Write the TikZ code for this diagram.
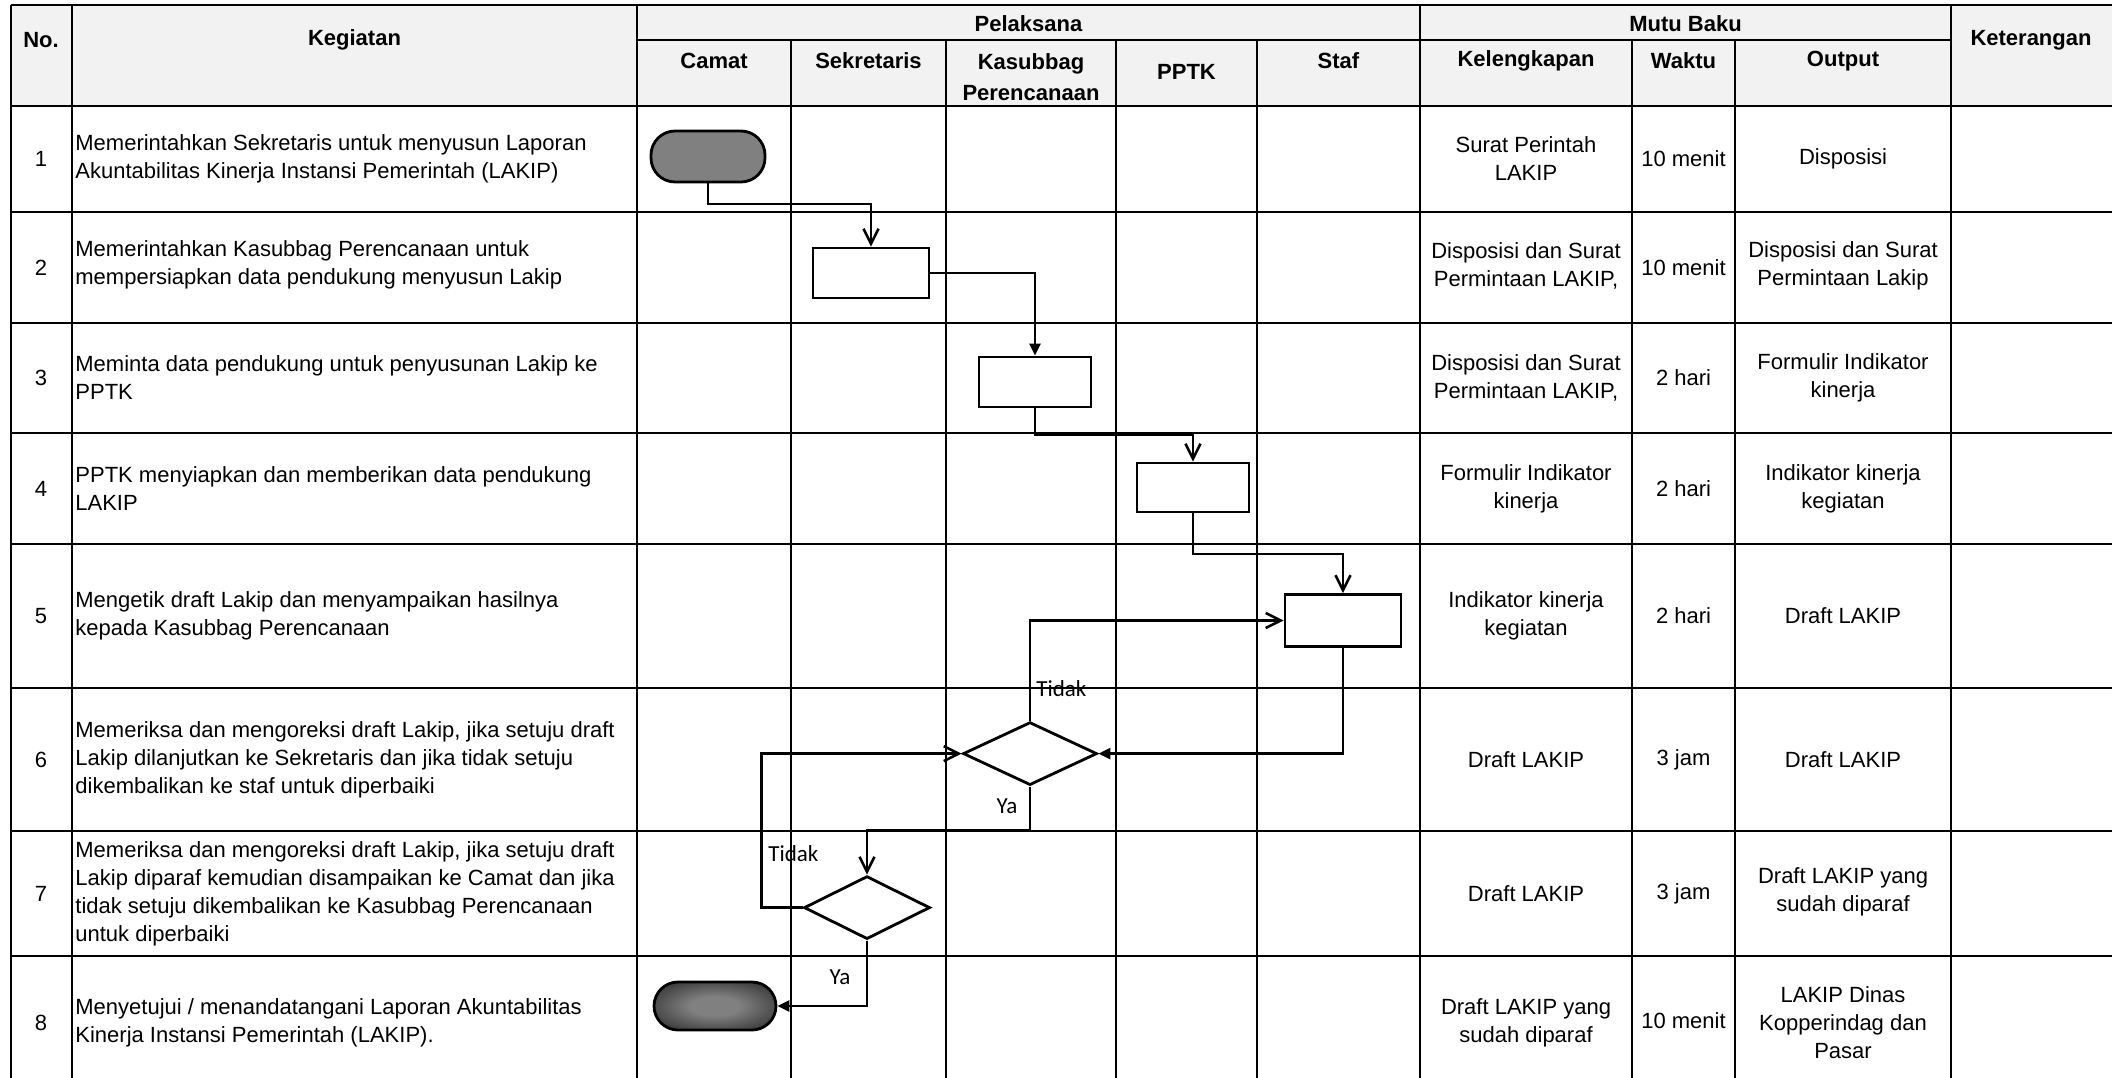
\documentclass[tikz,border=0pt]{standalone}
\usepackage{fontspec}
\setmainfont{Liberation Sans}
\newfontfamily\calib{Carlito}
\usetikzlibrary{arrows.meta,shapes.geometric}
\definecolor{midgray}{RGB}{128,128,128}
\definecolor{hdrbg}{RGB}{242,242,242}
\definecolor{darkrim}{RGB}{30,30,30}
\pgfdeclareradialshading{termshade}{\pgfpoint{0bp}{0bp}}{color(0bp)=(midgray); color(10bp)=(midgray); color(38bp)=(darkrim); color(50bp)=(black)}
\begin{document}
\begin{tikzpicture}[x=0.5pt,y=-0.5pt,
  gridline/.style={line width=1pt, black},
  hdr/.style={font=\bfseries\fontsize{11}{14}\selectfont, inner sep=0pt, align=center},
  txt/.style={font=\fontsize{11}{14}\selectfont, inner sep=0pt, align=center},
  kg/.style={font=\fontsize{11}{14}\selectfont, inner sep=0pt, align=left, anchor=west},
  lbl/.style={font=\calib\fontsize{11.5}{13}\selectfont, inner sep=0pt},
  procbox/.style={draw, line width=1.4pt, fill=white, minimum width=57pt, minimum height=25pt, inner sep=0pt},
  decis/.style={draw, diamond, line width=1.4pt, fill=white, inner sep=0pt},
  term/.style={draw, rounded corners=12pt, line width=1.4pt, inner sep=0pt},
  conn/.style={line width=1.3pt},
  openarr/.style={-{Straight Barb[length=7.5pt,width=7.5pt]}},
  fillarr/.style={-{Triangle[length=6pt,width=5.5pt]}},
]
\useasboundingbox (0,0) rectangle (2112,1077);
\clip (0,0) rectangle (2112,1077);
\fill[white] (0,0) rectangle (2112,1077);
% header background
\fill[hdrbg] (10.5,5) rectangle (2120,106);

% grid
\foreach \yy in {5,106,212,323,433,544,688,831,956}
  \draw[gridline] (10.5,\yy) -- (2120,\yy);
\draw[gridline] (637,40) -- (1951,40);
\foreach \xx in {10.5,72,637,1420,1951}
  \draw[gridline] (\xx,5) -- (\xx,1090);
\foreach \xx in {791,946,1116,1257,1632,1735}
  \draw[gridline] (\xx,40) -- (\xx,1090);

% header text
\node[hdr] (hno) at (41,40) {No.};
\node[hdr] (hkeg) at (354.5,40) {Kegiatan};
\node[hdr] (hket) at (2031,40) {Keterangan};
\node[hdr] (hpel) at (1028.5,24) {Pelaksana};
\node[hdr] (hmutu) at (1685.5,24) {Mutu Baku};
\node[hdr] (hcamat) at (714,61) {Camat};
\node[hdr] (hsek) at (868.5,61) {Sekretaris};
\node[hdr] (hkas) at (1031,64) {Kasubbag};
\node[hdr] (hper) at (1031,93) {Perencanaan};
\node[hdr] (hpptk) at (1186.5,72) {PPTK};
\node[hdr] (hstaf) at (1338.5,61) {Staf};
\node[hdr] (hkel) at (1526,61) {Kelengkapan};
\node[hdr] (hwak) at (1683.5,61) {Waktu};
\node[hdr] (hout) at (1843,61) {Output};

% numbers
\node[txt] (n1) at (41,159) {1};
\node[txt] (n2) at (41,267.5) {2};
\node[txt] (n3) at (41,378) {3};
\node[txt] (n4) at (41,488.5) {4};
\node[txt] (n5) at (41,616) {5};
\node[txt] (n6) at (41,759.5) {6};
\node[txt] (n7) at (41,893.5) {7};
\node[txt] (n8) at (41,1023) {8};

% kegiatan
\node[kg] (k1) at (75,159) {Memerintahkan Sekretaris untuk menyusun Laporan\\Akuntabilitas Kinerja Instansi Pemerintah (LAKIP)};
\node[kg] (k2) at (75,265) {Memerintahkan Kasubbag Perencanaan untuk\\mempersiapkan data pendukung menyusun Lakip};
\node[kg] (k3) at (75,378) {Meminta data pendukung untuk penyusunan Lakip ke\\PPTK};
\node[kg] (k4) at (75,488.5) {PPTK menyiapkan dan memberikan data pendukung\\LAKIP};
\node[kg] (k5) at (75,616) {Mengetik draft Lakip dan menyampaikan hasilnya\\kepada Kasubbag Perencanaan};
\node[kg] (k6) at (75,759.5) {Memeriksa dan mengoreksi draft Lakip, jika setuju draft\\Lakip dilanjutkan ke Sekretaris dan jika tidak setuju\\dikembalikan ke staf untuk diperbaiki};
\node[kg] (k7) at (75,893.5) {Memeriksa dan mengoreksi draft Lakip, jika setuju draft\\Lakip diparaf kemudian disampaikan ke Camat dan jika\\tidak setuju dikembalikan ke Kasubbag Perencanaan\\untuk diperbaiki};
\node[kg] (k8) at (75,1023) {Menyetujui / menandatangani Laporan Akuntabilitas\\Kinerja Instansi Pemerintah (LAKIP).};

% kelengkapan
\node[txt] (kl1) at (1526,159) {Surat Perintah\\LAKIP};
\node[txt] (kl2) at (1526,266) {Disposisi dan Surat\\Permintaan LAKIP,};
\node[txt] (kl3) at (1526,378) {Disposisi dan Surat\\Permintaan LAKIP,};
\node[txt] (kl4) at (1526,488.5) {Formulir Indikator\\kinerja};
\node[txt] (kl5) at (1526,616) {Indikator kinerja\\kegiatan};
\node[txt] (kl6) at (1526,759.5) {Draft LAKIP};
\node[txt] (kl7) at (1526,893.5) {Draft LAKIP};
\node[txt] (kl8) at (1526,1023) {Draft LAKIP yang\\sudah diparaf};

% waktu
\node[txt] (w1) at (1683.5,159) {10 menit};
\node[txt] (w2) at (1683.5,267.5) {10 menit};
\node[txt] (w3) at (1683.5,378) {2 hari};
\node[txt] (w4) at (1683.5,488.5) {2 hari};
\node[txt] (w5) at (1683.5,616) {2 hari};
\node[txt] (w6) at (1683.5,759.5) {3 jam};
\node[txt] (w7) at (1683.5,893.5) {3 jam};
\node[txt] (w8) at (1683.5,1021) {10 menit};

% output
\node[txt] (o1) at (1843,159) {Disposisi};
\node[txt] (o2) at (1843,266) {Disposisi dan Surat\\Permintaan Lakip};
\node[txt] (o3) at (1843,378) {Formulir Indikator\\kinerja};
\node[txt] (o4) at (1843,488.5) {Indikator kinerja\\kegiatan};
\node[txt] (o5) at (1843,616) {Draft LAKIP};
\node[txt] (o6) at (1843,759.5) {Draft LAKIP};
\node[txt] (o7) at (1843,892) {Draft LAKIP yang\\sudah diparaf};
\node[txt] (o8) at (1843,1023) {LAKIP Dinas\\Kopperindag dan\\Pasar};

% flowchart shapes
\node[term, fill=midgray, minimum width=57pt, minimum height=25.5pt] (S) at (708,156.5) {};
\node[procbox, minimum width=58pt] (B2) at (871,273) {};
\node[procbox, minimum width=56pt] (B3) at (1035,382) {};
\node[procbox, minimum width=56pt, minimum height=24.5pt] (B4) at (1193,487.5) {};
\node[procbox, minimum width=58pt, minimum height=26pt] (B5) at (1343,620.5) {};
\node[decis, minimum width=67pt, minimum height=31.5pt] (D1) at (1030,753.6) {};
\node[decis, minimum width=63pt, minimum height=31.5pt] (D2) at (867,907.6) {};
\node[term, shading=termshade, minimum width=61pt, minimum height=24pt] (E) at (715,1006) {};

% bend levels
\coordinate (h1) at (0,204);
\coordinate (h3) at (0,435);
\coordinate (h4) at (0,554);
\coordinate (h6) at (0,830.7);
\coordinate (v1) at (761.7,0);

% connectors
\draw[conn,openarr] (S.south) -- (S.south |- h1) -| (B2.north);
\draw[conn,fillarr] (B2.east) -| (B3.north);
\draw[conn,openarr] (B3.south) -- (B3.south |- h3) -| (B4.north);
\draw[conn,openarr] (B4.south) -- (B4.south |- h4) -| (B5.north);
\draw[conn,fillarr] (B5.south) |- (D1.east);
\draw[conn,openarr] (D1.north) |- (B5.west);
\draw[conn,openarr] (D1.south) -- (D1.south |- h6) -| (D2.north);
\draw[conn,openarr] (D2.west) -- (v1 |- D2.west) |- (D1.west);
\draw[conn,fillarr] (D2.south) |- (E.east);

% labels
\node[lbl, anchor=west] (t1) at (1036,689) {Tidak};
\node[lbl] (y1) at (1007,806) {Ya};
\node[lbl, anchor=west] (t2) at (768,854) {Tidak};
\node[lbl] (y2) at (840,977) {Ya};
\end{tikzpicture}
\end{document}
